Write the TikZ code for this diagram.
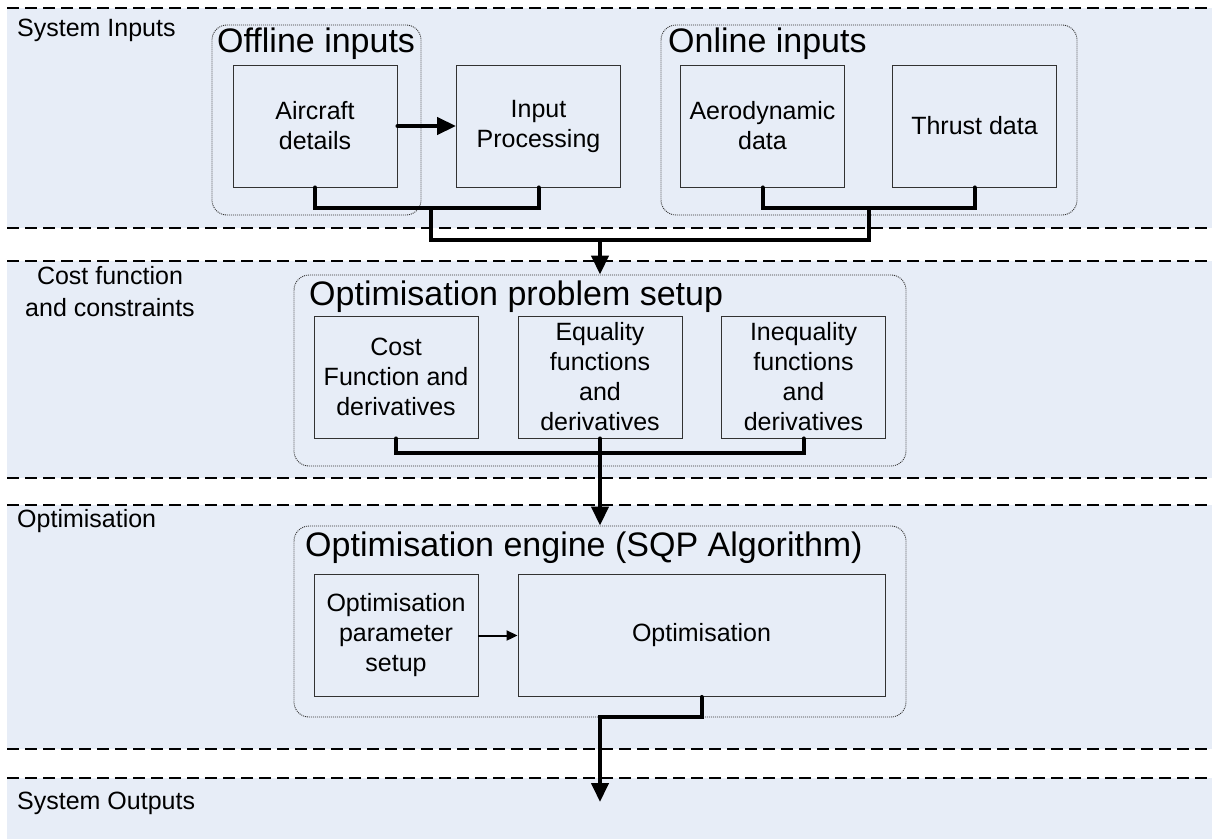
\documentclass[tikz,border=0pt]{standalone}
\usepackage{fontspec}
\setmainfont{Liberation Sans}
\usepackage{xcolor}
\usetikzlibrary{arrows.meta}
\definecolor{bandblue}{RGB}{231,237,247}
\definecolor{rimgray}{RGB}{50,50,50}

\begin{document}
\begin{tikzpicture}[x=1pt, y=-1pt,
  every node/.style={font=\fontsize{25}{30}\selectfont, inner sep=0pt},
  bandrule/.style={black, line width=2pt, dash pattern=on 12pt off 6pt},
  group/.style={draw=black!80, dash pattern=on 1pt off 1pt, line width=0.9pt, rounded corners=15pt},
  block/.style={draw=rimgray, line width=0.9pt, fill=bandblue, align=center,
    minimum width=164pt, minimum height=122pt},
  title/.style={anchor=base west, font=\fontsize{34}{40}\selectfont},
  bandlabel/.style={anchor=base west},
  bus/.style={line width=4pt, line cap=round},
  busarrow/.style={bus, -{Triangle[length=19pt, width=17pt]}},
  thinarrow/.style={line width=2pt, -{Triangle[length=11pt, width=10pt]}}]
\path[use as bounding box, fill=white] (0,0) rectangle (1212,839);
% Bands
\fill[bandblue] (7,8) rectangle (1212,228);
\fill[bandblue] (7,261) rectangle (1212,478);
\fill[bandblue] (7,505) rectangle (1212,749);
\fill[bandblue] (7,778) rectangle (1212,839);
\foreach \y in {8,228,261,478,505,749,778}
  \draw[bandrule] (7,\y) -- (1212,\y);
% Band labels
\node[bandlabel] (lblin) at (17,36) {System Inputs};
\node[anchor=north, align=center, font=\fontsize{25}{31.5}\selectfont] (lblcost) at (110,266.5) {Cost function\\and constraints};
\node[bandlabel] (lblopt) at (17,527) {Optimisation};
\node[bandlabel] (lblout) at (17,809) {System Outputs};
% Input groups
\node[group, minimum width=209pt, minimum height=190pt] (offline) at (316.5,120) {};
\node[title] (offtitle) at (217,52) {Offline inputs};
\node[group, minimum width=416pt, minimum height=190pt] (online) at (869,120) {};
\node[title] (ontitle) at (668,52) {Online inputs};
% Input blocks
\node[block] (aircraft) at (315,126) {Aircraft\\details};
\node[block] (process) at (538.5,126) {Input\\Processing};
\node[block] (aero) at (762.5,126) {Aerodynamic\\data};
\node[block] (thrust) at (974.5,126) {Thrust data};
% Problem setup group
\node[group, minimum width=612pt, minimum height=191pt] (setup) at (600,370.5) {};
\node[title] (setuptitle) at (309,305) {Optimisation problem setup};
\node[block] (cost) at (396,377) {Cost\\Function and\\derivatives};
\node[block] (equal) at (600,377) {Equality\\functions\\and\\derivatives};
\node[block] (inequal) at (803.5,377) {Inequality\\functions\\and\\derivatives};
% Engine group
\node[group, minimum width=612pt, minimum height=191pt] (engine) at (600,621.5) {};
\node[title] (enginetitle) at (305,556) {Optimisation engine (SQP Algorithm)};
\node[block] (param) at (396,635.5) {Optimisation\\parameter\\setup};
\node[block, minimum width=367pt] (optim) at (701.5,635.5) {Optimisation};
% Junctions
\coordinate (offjoin) at (431,208);
\coordinate (onjoin) at (869,208);
\coordinate (inmerge) at (600,240);
\coordinate (setjoin) at (600,453);
\coordinate (outjoin) at (600,717);
\coordinate (outtip) at (600,802);
% Connectors
\draw[busarrow] (aircraft.east) -- (process.west);
\draw[bus] (aircraft.south) |- (offjoin) -| (process.south);
\draw[bus] (aero.south) |- (onjoin) -| (thrust.south);
\draw[bus] (offjoin) |- (inmerge) -| (onjoin);
\draw[busarrow] (inmerge) -- (setup.north);
\draw[bus] (cost.south) |- (setjoin) -| (inequal.south);
\draw[busarrow] (equal.south) -- (engine.north);
\draw[thinarrow] (param.east) -- (optim.west);
\draw[busarrow] (optim.south) |- (outjoin) -- (outtip);
\end{tikzpicture}
\end{document}
